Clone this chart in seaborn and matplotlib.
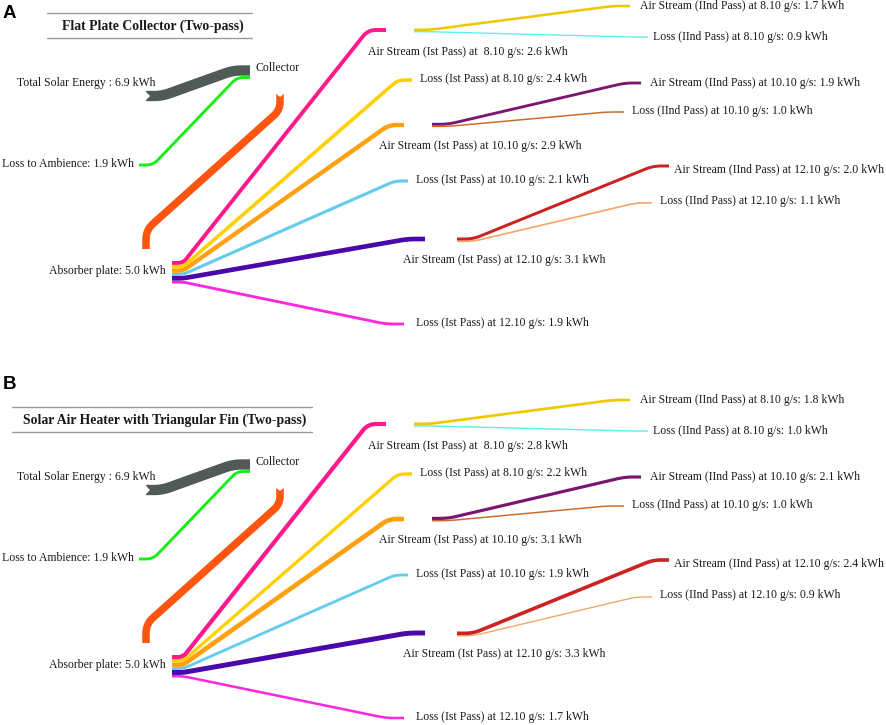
import numpy as np
import pandas as pd
import matplotlib
matplotlib.use("Agg")
import matplotlib.pyplot as plt
import seaborn as sns

# ---------------- DATA ----------------
panel_letters = ["A", "B"]
panel_titles = ["Flat Plate Collector (Two-pass)",
                "Solar Air Heater with Triangular Fin (Two-pass)"]
total_solar = [6.9, 6.9]
loss_ambience = [1.9, 1.9]
absorber_plate = [5.0, 5.0]

first_pass_names = ["Air Stream (Ist Pass) at  8.10 g/s",
                    "Loss (Ist Pass) at 8.10 g/s",
                    "Air Stream (Ist Pass) at 10.10 g/s",
                    "Loss (Ist Pass) at 10.10 g/s",
                    "Air Stream (Ist Pass) at 12.10 g/s",
                    "Loss (Ist Pass) at 12.10 g/s"]
first_pass_A = [2.6, 2.4, 2.9, 2.1, 3.1, 1.9]
first_pass_B = [2.8, 2.2, 3.1, 1.9, 3.3, 1.7]

second_pass_names = ["Air Stream (IInd Pass) at 8.10 g/s",
                     "Loss (IInd Pass) at 8.10 g/s",
                     "Air Stream (IInd Pass) at 10.10 g/s",
                     "Loss (IInd Pass) at 10.10 g/s",
                     "Air Stream (IInd Pass) at 12.10 g/s",
                     "Loss (IInd Pass) at 12.10 g/s"]
second_pass_A = [1.7, 0.9, 1.9, 1.0, 2.0, 1.1]
second_pass_B = [1.8, 1.0, 2.1, 1.0, 2.4, 0.9]

# ---------------- STYLE / LAYOUT ----------------
first_colors = ["#ff1a8c", "#ffd000", "#ffa010", "#66ccee", "#4a08aa", "#ff28dd"]
second_colors = ["#f0c800", "#5ef0f0", "#7a1670", "#cc6a2a", "#cc2222", "#f5a565"]
GRAY, GREEN, ABS = "#505b58", "#11ee11", "#ff5511"
TXT = "#1a1a1a"
K = 1.5            # pixels of band width per kWh
PT = 0.72          # points per pixel at dpi 100
PANEL_DY = 394     # vertical offset of panel B
FONT_LBL = 8.45
FONT_TTL = 9.9

# first pass: bend (x, y) and end x ; label anchor (x, y)
fp_bend = [(368, 30), (398, 80), (389, 125), (395, 181), (408, 239), (386, 324)]
fp_end_x = [386, 412, 404, 408, 425, 404]
fp_label = [(368, 52), (420, 79), (379, 146), (416, 180), (403, 260), (416, 323)]
FP_X0, FP_XH, FP_TOP = 172, 183, 261

# second pass groups: start x, top y
sp_start = [(414, 28.5), (432, 122.8), (457, 237.5)]
sp_bend = [(613, 6), (632, 37), (625, 83), (607, 112), (653, 166), (636, 203)]
sp_end_x = [630, 648, 641, 624, 669, 652]
sp_label = [(640, 6), (653, 37), (650, 83), (632, 111), (674, 170), (660, 201)]

sns.set_theme(style="white")
plt.rcParams['font.family'] = ['Liberation Serif', 'DejaVu Serif']

W, H = 886, 725
fig = plt.figure(figsize=(W / 100, H / 100), dpi=100)
ax = fig.add_axes([0, 0, 1, 1])
ax.set_xlim(0, W)
ax.set_ylim(H, 0)
ax.axis('off')


def rounded(pts, r=8, n=10):
    pts = np.asarray(pts, float)
    out = [pts[0]]
    for i in range(1, len(pts) - 1):
        p0, p1, p2 = pts[i - 1], pts[i], pts[i + 1]
        d1, d2 = p1 - p0, p2 - p1
        l1, l2 = np.hypot(*d1), np.hypot(*d2)
        rr = min(r, l1 / 2, l2 / 2)
        a = p1 - d1 / l1 * rr
        b = p1 + d2 / l2 * rr
        t = np.linspace(0, 1, n)[:, None]
        out.extend(list((1 - t) ** 2 * a + 2 * (1 - t) * t * p1 + t ** 2 * b))
    out.append(pts[-1])
    return np.array(out)


def flow(pts, value, color, r=8, z=2):
    p = rounded(pts, r)
    df = pd.DataFrame({"x": p[:, 0], "y": p[:, 1]})
    sns.lineplot(data=df, x="x", y="y", sort=False, estimator=None, ax=ax,
                 color=color, linewidth=K * value * PT, solid_capstyle="butt",
                 solid_joinstyle="round", zorder=z, legend=False)


for pi in range(2):
    dy = pi * PANEL_DY
    fp = [first_pass_A, first_pass_B][pi]
    sp = [second_pass_A, second_pass_B][pi]

    # panel letter
    ax.text(3, 13 + pi * 371, panel_letters[pi], fontsize=13.5, fontweight='bold',
            family=['Liberation Sans', 'DejaVu Sans'], ha='left', va='center', color='black')
    # title with rules
    tx0, tx1 = [(47, 252), (12, 312)][pi]
    ax.plot([tx0, tx1], [13 + dy, 13 + dy], color="#9a9a9a", lw=1.0)
    ax.plot([tx0, tx1], [38 + dy, 38 + dy], color="#9a9a9a", lw=1.0)
    ax.text((tx0 + tx1) / 2 + 3, 26 + dy, panel_titles[pi], fontsize=FONT_TTL, fontweight='bold',
            ha='center', va='center', color=TXT)

    # total solar energy -> collector
    yc = 96 + dy
    flow([(146, yc), (162, yc), (233, 70.5 + dy), (250, 70.5 + dy)], total_solar[pi], GRAY, r=10)
    w = K * total_solar[pi]
    ax.fill([144, 144, 150], [yc - w / 2 - 1, yc + w / 2 + 1, yc], color='white', zorder=3, lw=0)
    ax.text(155, 83 + dy, f"Total Solar Energy : {total_solar[pi]:.1f} kWh", fontsize=FONT_LBL,
            ha='right', va='center', color=TXT)
    ax.text(256, 68 + dy, "Collector", fontsize=FONT_LBL, ha='left', va='center', color=TXT)

    # loss to ambience
    flow([(250, 77.5 + dy), (237, 77.5 + dy), (153, 165 + dy), (139, 165 + dy)],
         loss_ambience[pi], GREEN, r=8, z=3)
    ax.text(134, 164 + dy, f"Loss to Ambience: {loss_ambience[pi]:.1f} kWh", fontsize=FONT_LBL,
            ha='right', va='center', color=TXT)

    # absorber plate band
    flow([(280, 94 + dy), (280, 110 + dy), (146, 230 + dy), (146, 249 + dy)],
         absorber_plate[pi], ABS, r=10)
    wa = K * absorber_plate[pi]
    ax.fill([280 - wa / 2 - 1, 280 + wa / 2 + 1, 280], [93 + dy, 93 + dy, 97 + dy],
            color='white', zorder=3, lw=0)
    ax.text(166, 271 + dy, f"Absorber plate: {absorber_plate[pi]:.1f} kWh", fontsize=FONT_LBL,
            ha='right', va='center', color=TXT)

    # first pass fan
    top = FP_TOP + dy
    centers = []
    for v in fp:
        centers.append(top + K * v / 2)
        top += K * v
    for i, v in enumerate(fp):
        c = centers[i]
        bx, by = fp_bend[i]
        flow([(FP_X0, c), (FP_XH, c), (bx, by + dy), (fp_end_x[i], by + dy)], v,
             first_colors[i], r=8, z=2 + (6 - i) * 0.01)
        lx, ly = fp_label[i]
        ax.text(lx, ly + dy, f"{first_pass_names[i]}: {v:.1f} kWh", fontsize=FONT_LBL,
                ha='left', va='center', color=TXT)

    # second pass
    for g in range(3):
        sx, sy = sp_start[g]
        top = sy + dy
        for j in range(2):
            i = 2 * g + j
            v = sp[i]
            c = top + K * v / 2
            top += K * v
            bx, by = sp_bend[i]
            flow([(sx, c), (sx + 16, c), (bx, by + dy), (sp_end_x[i], by + dy)], v,
                 second_colors[i], r=8, z=3 - j * 0.1)
            lx, ly = sp_label[i]
            ax.text(lx, ly + dy, f"{second_pass_names[i]}: {v:.1f} kWh", fontsize=FONT_LBL,
                    ha='left', va='center', color=TXT)

fig.savefig("out.png", dpi=100, facecolor='white')
